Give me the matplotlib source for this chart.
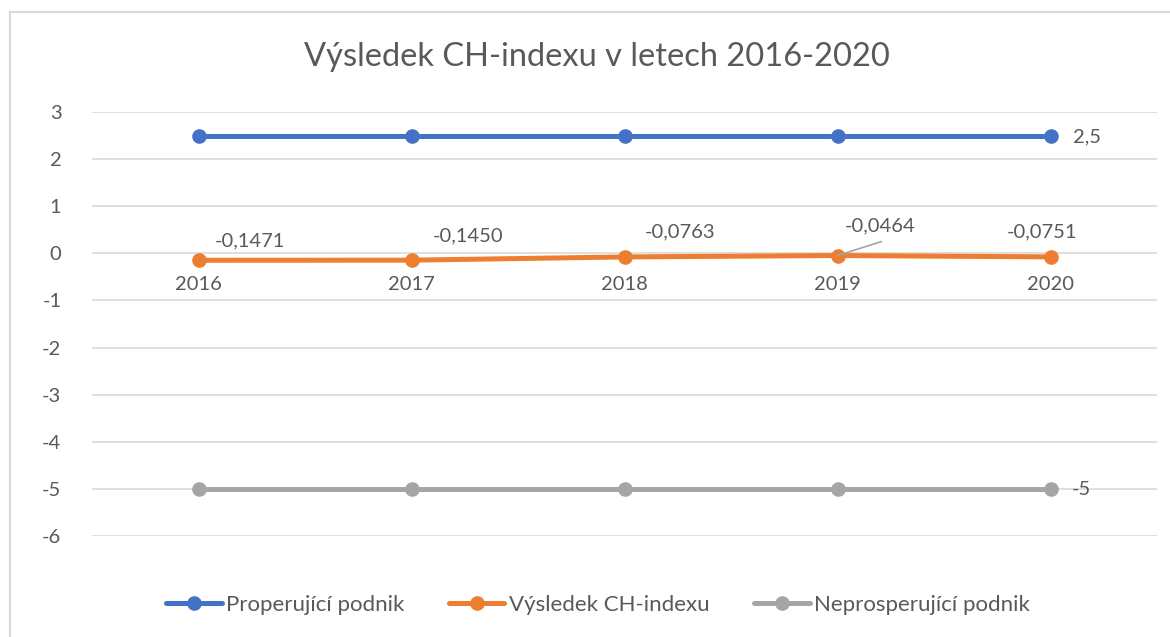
import numpy as np
import matplotlib.pyplot as plt
from matplotlib.lines import Line2D

plt.rcParams['font.family'] = ['Lato', 'DejaVu Sans']
plt.rcParams['axes.unicode_minus'] = False

years = ['2016', '2017', '2018', '2019', '2020']
prosperujici = [2.5, 2.5, 2.5, 2.5, 2.5]
ch_index = [-0.1471, -0.1450, -0.0763, -0.0464, -0.0751]
neprosperujici = [-5, -5, -5, -5, -5]
ch_labels = ['-0,1471', '-0,1450', '-0,0763', '-0,0464', '-0,0751']

blue = '#4472C4'
orange = '#ED7D31'
grey = '#A5A5A5'
txt = '#595959'
fs = 14.5

W, H = 1170, 637
fig = plt.figure(figsize=(W / 100, H / 100), dpi=100)
ax = fig.add_axes([92 / W, 1 - 536 / H, (1157 - 92) / W, (536 - 112) / H])

# chart frame (top and left edges visible)
fig.add_artist(Line2D([10 / W, 1], [1 - 12 / H, 1 - 12 / H], color='#D9D9D9', lw=1.5))
fig.add_artist(Line2D([10 / W, 10 / W], [1 - 12 / H, 0], color='#D9D9D9', lw=1.5))

x = np.arange(len(years))
kw = dict(lw=3.6, marker='o', ms=9.5, solid_capstyle='round')
ax.plot(x, prosperujici, color=blue, label='Properující podnik', **kw)
ax.plot(x, ch_index, color=orange, label='Výsledek CH-indexu', **kw)
ax.plot(x, neprosperujici, color=grey, label='Neprosperující podnik', **kw)

ax.set_xlim(-0.5, len(years) - 0.5)
ax.set_ylim(-6, 3)
ax.set_yticks(range(-6, 4))
ax.yaxis.grid(True, color='#D9D9D9', lw=1.2)
ax.set_axisbelow(True)
for s in ax.spines.values():
    s.set_visible(False)
ax.tick_params(axis='y', length=0, pad=22, labelsize=fs, labelcolor=txt)
ax.set_xticks([])

# category labels sit just under the zero line
for i, yr in enumerate(years):
    ax.annotate(yr, (i, 0), xytext=(0, -31), textcoords='offset pixels',
                ha='center', va='center', fontsize=fs, color=txt)

# data labels for CH index
offsets = [(51, 19), (57, 24), (56, 25), (43, 30), (-9, 25)]
for i, (lab, (dx, dy)) in enumerate(zip(ch_labels, offsets)):
    ax.annotate(lab, (i, ch_index[i]), xytext=(dx, dy), textcoords='offset pixels',
                ha='center', va='center', fontsize=fs, color=txt)
# leader line for 2019
ax.annotate('', (3, ch_index[3]), xytext=(44, 14), textcoords='offset pixels',
            arrowprops=dict(arrowstyle='-', color=grey, lw=1.2, shrinkA=0, shrinkB=0))

ax.annotate('2,5', (4, prosperujici[4]), xytext=(22, -1), textcoords='offset pixels',
            ha='left', va='center', fontsize=fs, color=txt)
ax.annotate('-5', (4, neprosperujici[4]), xytext=(21, -1), textcoords='offset pixels',
            ha='left', va='center', fontsize=fs, color=txt)

fig.text(597 / W, 1 - 57 / H, 'Výsledek CH-indexu v letech 2016-2020',
         ha='center', va='center', fontsize=23.5, color=txt)

fig.legend(loc='center', bbox_to_anchor=(598 / W, 1 - 605 / H), ncol=3, frameon=False,
           fontsize=16, labelcolor=txt, handlelength=2.5, handletextpad=0.2,
           columnspacing=2.0)

fig.savefig('out.png', dpi=100)
